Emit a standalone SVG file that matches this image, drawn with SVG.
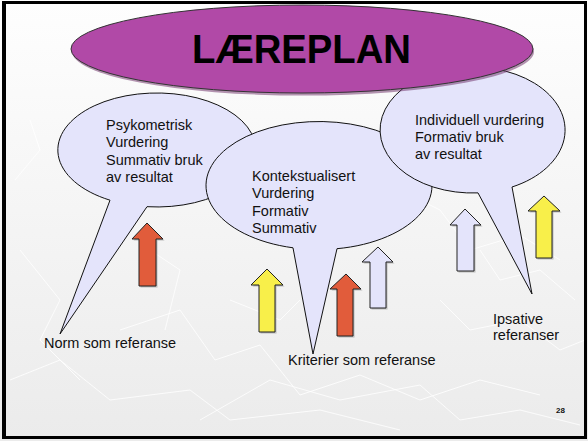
<svg xmlns="http://www.w3.org/2000/svg" width="588" height="441" viewBox="0 0 588 441">
<style>
text{font-family:"Liberation Sans",Arial,sans-serif;fill:#111}
.t{font-size:14.5px}
.bub{fill:#e4e4fb;stroke:#111;stroke-width:1}
.arr{stroke:#222;stroke-width:1}
.red{fill:#e15c3b}
.yel{fill:#f8ef4a}
.lav{fill:#e4e4fb}
.sh{fill:#777;opacity:.45}
.bg{fill:none;stroke:#fff;stroke-width:1;opacity:.8}
</style>
<defs>
<linearGradient id="g" x1="0" y1="0" x2="0" y2="1">
<stop offset="0" stop-color="#fefefe"/>
<stop offset="1" stop-color="#ebebeb"/>
</linearGradient>
</defs>
<rect x="0" y="0" width="588" height="441" fill="url(#g)"/>
<g id="background-pattern">
<polyline class="bg" points="10,380 60,360 110,400 190,390 230,420 320,410 400,430"/>
<polyline class="bg" points="120,330 180,310 215,360 260,345 300,395 360,375 420,400 480,380 540,395"/>
<polyline class="bg" points="200,420 270,380 340,400 420,385 460,420 520,410 580,425"/>
<polyline class="bg" points="440,300 470,330 520,320 560,350 585,340"/>
<polyline class="bg" points="480,250 500,280 540,270 575,300"/>
<polyline class="bg" points="20,250 60,300 40,340 80,380"/>
<polyline class="bg" points="150,250 180,270 165,330"/>
<polyline class="bg" points="400,190 440,210 470,250 520,235 560,260"/>
<polyline class="bg" points="230,300 280,320 300,300"/>
<polyline class="bg" points="15,180 40,150 30,120"/>
</g>
<rect x="3.5" y="2.5" width="582" height="435" fill="none" stroke="#000" stroke-width="3"/>
<line x1="5" y1="2" x2="5" y2="439" stroke="#000" stroke-width="2"/>

<g id="bubble-psykometrisk">
<path class="bub" d="M147,206.7 A99,57 0 1 0 110,200.2 L60,334 Z"/>
<text class="t" x="106" y="129.5">Psykometrisk</text>
<text class="t" x="106" y="147">Vurdering</text>
<text class="t" x="106" y="164.5">Summativ bruk</text>
<text class="t" x="106" y="182">av resultat</text>
</g>

<g id="bubble-kontekstualisert">
<path class="bub" d="M337,248.7 A113,64 0 1 0 293,247.8 L313,354 Z"/>
<text class="t" x="252" y="181">Kontekstualisert</text>
<text class="t" x="252" y="198">Vurdering</text>
<text class="t" x="252" y="215.5">Formativ</text>
<text class="t" x="252" y="233">Summativ</text>
</g>

<g id="bubble-individuell">
<path class="bub" d="M512,187 A92.5,63 0 1 0 478,192.9 L532,294 Z"/>
<text class="t" x="415" y="125">Individuell vurdering</text>
<text class="t" x="415" y="142">Formativ bruk</text>
<text class="t" x="415" y="159">av resultat</text>
</g>

<g id="laereplan">
<ellipse cx="302" cy="50" rx="231" ry="44" fill="#6a2a64" opacity=".5" transform="translate(1,1.5)"/>
<ellipse cx="302" cy="49" rx="231" ry="44" fill="#b149a7" stroke="#333" stroke-width="1"/>
<text x="301.5" y="63" font-size="40" font-weight="bold" text-anchor="middle" textLength="219" lengthAdjust="spacingAndGlyphs" style="fill:#000">LÆREPLAN</text>
</g>

<g id="label-norm"><text class="t" x="44" y="348">Norm som referanse</text></g>
<g id="label-kriterier"><text class="t" x="288" y="365">Kriterier som referanse</text></g>
<g id="label-ipsative">
<text class="t" x="493" y="324">Ipsative</text>
<text class="t" x="493" y="340">referanser</text>
</g>
<g id="page-number"><text x="556" y="413" font-size="8" font-weight="bold">28</text></g>

<g id="connectors">
<g transform="translate(1.5,1.5)">
<polygon class="sh" points="147,223 163,239 156,239 156,286 139,286 139,239 132,239"/>
<polygon class="sh" points="267,269 283,285 275,285 275,332 259,332 259,285 251,285"/>
<polygon class="sh" points="346,274 361,289 353,289 353,336 337,336 337,289 330,289"/>
<polygon class="sh" points="378,247 393,262 386,262 386,308 370,308 370,262 362,262"/>
<polygon class="sh" points="465,209 481,225 474,225 474,271 457,271 457,225 450,225"/>
<polygon class="sh" points="544,196 560,211 552,211 552,258 536,258 536,211 528,211"/>
</g>
<polygon class="arr red" points="147,223 163,239 156,239 156,286 139,286 139,239 132,239"/>
<polygon class="arr yel" points="267,269 283,285 275,285 275,332 259,332 259,285 251,285"/>
<polygon class="arr red" points="346,274 361,289 353,289 353,336 337,336 337,289 330,289"/>
<polygon class="arr lav" points="378,247 393,262 386,262 386,308 370,308 370,262 362,262"/>
<polygon class="arr lav" points="465,209 481,225 474,225 474,271 457,271 457,225 450,225"/>
<polygon class="arr yel" points="544,196 560,211 552,211 552,258 536,258 536,211 528,211"/>
</g>
</svg>
